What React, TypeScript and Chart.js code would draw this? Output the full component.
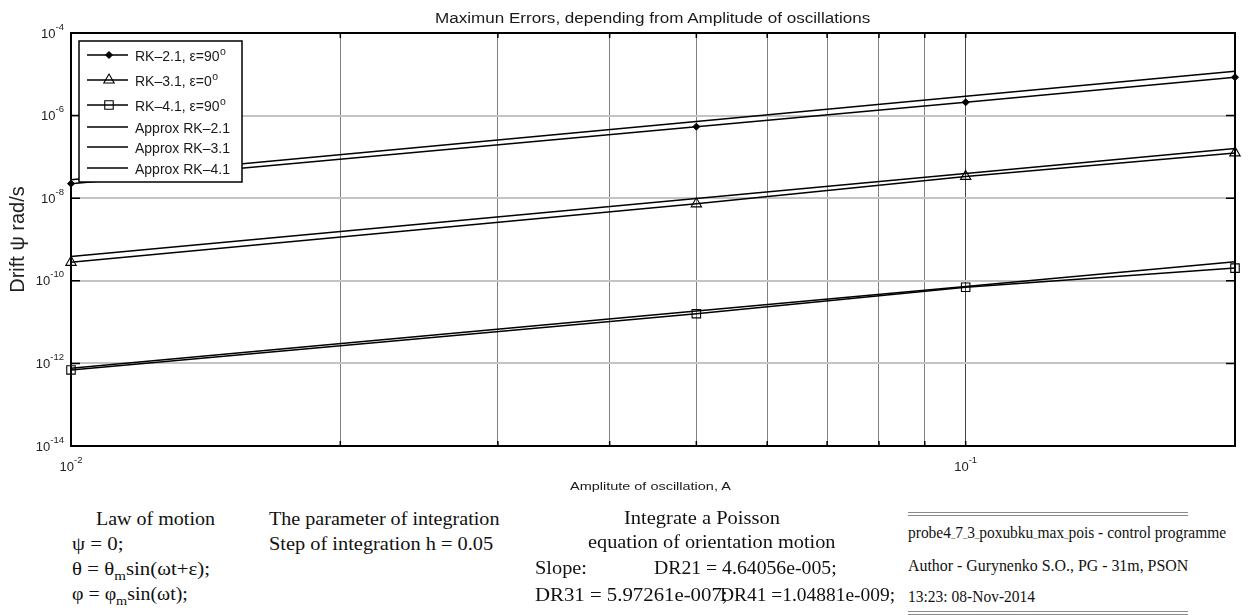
import React, { useEffect, useLayoutEffect, useRef } from 'react';
import { Chart, registerables } from 'chart.js';
import { drawPoint } from 'chart.js/helpers';

Chart.register(...registerables);

// ---------- data ----------
const amplitudes = [0.01, 0.05, 0.1, 0.2];
const rk21 = [2.25e-8, 5.4e-7, 2.1e-6, 8.5e-6];
const rk31 = [2.8e-10, 7.3e-9, 3.37e-8, 1.25e-7];
const rk41 = [6.95e-13, 1.6e-11, 7.0e-11, 2.03e-10];
const approx21 = [2.78e-8, 7.2e-7, 2.94e-6, 1.19e-5];
const approx31 = [3.9e-10, 9.9e-9, 3.95e-8, 1.6e-7];
const approx41 = [7.6e-13, 1.85e-11, 7.3e-11, 2.9e-10];

const seriesLabels = [
  'RK–2.1, ε=90ᵒ',
  'RK–3.1, ε=0ᵒ',
  'RK–4.1, ε=90ᵒ',
  'Approx RK–2.1',
  'Approx RK–3.1',
  'Approx RK–4.1',
];

const xTickValues = [0.01, 0.02, 0.03, 0.04, 0.05, 0.06, 0.07, 0.08, 0.09, 0.1, 0.2];
const xTickLabels = ['10⁻²', '', '', '', '', '', '', '', '', '10⁻¹', ''];
const yTickValues = [1e-4, 1e-6, 1e-8, 1e-10, 1e-12, 1e-14];
const yTickLabels = ['10⁻⁴', '10⁻⁶', '10⁻⁸', '10⁻¹⁰', '10⁻¹²', '10⁻¹⁴'];

const chartTitle = 'Maximun Errors, depending from Amplitude of oscillations';
const xTitle = 'Amplitute of oscillation, A';
const yTitle = 'Drift ψ rad/s';

const SANS = "'Liberation Sans', Arial, Helvetica, sans-serif";
const SERIF = "'Liberation Serif', 'Times New Roman', Times, serif";

const supMap: Record<string, string> = {
  '⁻': '-', '⁰': '0', '¹': '1', '²': '2', '³': '3', '⁴': '4', '⁵': '5', '⁶': '6', '⁷': '7', '⁸': '8', '⁹': '9', 'ᵒ': 'o',
};
const splitLabel = (s: string) => ({
  base: s.slice(0, 2),
  exp: Array.from(s.slice(2)).map((c) => supMap[c] ?? c).join(''),
});

const labelFor = (values: number[], labels: string[], v: number) => {
  for (let i = 0; i < values.length; i++) {
    if (Math.abs(Math.log10(values[i]) - Math.log10(v)) < 1e-6) return labels[i];
  }
  return '';
};

const pts = (ys: number[]) => amplitudes.map((x, i) => ({ x, y: ys[i] }));

// ---------- plugins ----------
const framePlugin = {
  id: 'frame',
  afterDatasetsDraw(chart: any) {
    const { ctx, chartArea: a, scales } = chart;
    ctx.save();
    ctx.strokeStyle = '#000';
    ctx.lineWidth = 2;
    ctx.beginPath();
    ctx.moveTo(a.left, a.top);
    ctx.lineTo(a.right, a.top);
    ctx.lineTo(a.right, a.bottom);
    ctx.stroke();
    ctx.lineWidth = 1.5;
    const tl = 5;
    ctx.beginPath();
    xTickValues.forEach((v) => {
      const px = scales.x.getPixelForValue(v);
      ctx.moveTo(px, a.bottom);
      ctx.lineTo(px, a.bottom - tl);
      ctx.moveTo(px, a.top);
      ctx.lineTo(px, a.top + tl);
    });
    yTickValues.forEach((v) => {
      const py = scales.y.getPixelForValue(v);
      ctx.moveTo(a.left, py);
      ctx.lineTo(a.left + tl + 4, py);
      ctx.moveTo(a.right, py);
      ctx.lineTo(a.right - tl - 4, py);
    });
    ctx.stroke();

    // tick labels with superscript exponents
    ctx.fillStyle = '#222';
    ctx.textBaseline = 'middle';
    const BASE = `13px ${SANS}`;
    const EXP = `9.5px ${SANS}`;
    yTickValues.forEach((v) => {
      const lab = labelFor(yTickValues, yTickLabels, v);
      if (!lab) return;
      const { base, exp } = splitLabel(lab);
      const py = scales.y.getPixelForValue(v);
      const right = a.left - 7;
      ctx.font = EXP;
      const ew = ctx.measureText(exp).width;
      ctx.textAlign = 'right';
      ctx.fillText(exp, right, py - 6);
      ctx.font = BASE;
      ctx.fillText(base, right - ew, py + 1);
    });
    xTickValues.forEach((v) => {
      const lab = labelFor(xTickValues, xTickLabels, v);
      if (!lab) return;
      const { base, exp } = splitLabel(lab);
      const px = scales.x.getPixelForValue(v);
      ctx.font = BASE;
      const bw = ctx.measureText(base).width;
      ctx.font = EXP;
      const ew = ctx.measureText(exp).width;
      const start = px - (bw + ew) / 2;
      ctx.textAlign = 'left';
      ctx.font = BASE;
      ctx.fillText(base, start, a.bottom + 21);
      ctx.font = EXP;
      ctx.fillText(exp, start + bw, a.bottom + 14);
    });
    ctx.restore();
  },
};

const legendPlugin = {
  id: 'boxLegend',
  afterDraw(chart: any) {
    const { ctx } = chart;
    const bx = 79, by = 41, bw = 163, bh = 141;
    const rows = [55, 80, 105, 127, 147, 168];
    ctx.save();
    ctx.fillStyle = '#fff';
    ctx.fillRect(bx, by, bw, bh);
    ctx.strokeStyle = '#000';
    ctx.lineWidth = 1.5;
    ctx.strokeRect(bx, by, bw, bh);
    chart.data.datasets.forEach((ds: any, i: number) => {
      const y = rows[i];
      ctx.strokeStyle = ds.borderColor;
      ctx.lineWidth = ds.borderWidth;
      ctx.beginPath();
      ctx.moveTo(87, y);
      ctx.lineTo(128, y);
      ctx.stroke();
      if (ds.pointRadius > 0) {
        ctx.fillStyle = ds.pointBackgroundColor;
        ctx.strokeStyle = ds.pointBorderColor;
        ctx.lineWidth = ds.pointBorderWidth;
        drawPoint(ctx, { pointStyle: ds.pointStyle, radius: ds.pointRadius, rotation: 0, borderWidth: ds.pointBorderWidth }, 109, y);
      }
      ctx.fillStyle = '#1a1a1a';
      ctx.textBaseline = 'middle';
      ctx.textAlign = 'left';
      const label: string = ds.label;
      const main = label.endsWith('ᵒ') ? label.slice(0, -1) : label;
      ctx.font = `14px ${SANS}`;
      ctx.fillText(main, 135, y + 2);
      if (main !== label) {
        const w = ctx.measureText(main).width;
        ctx.font = `10.5px ${SANS}`;
        ctx.fillText(supMap['ᵒ'], 135 + w + 0.5, y - 3);
      }
    });
    ctx.restore();
  },
};

// ---------- stretched HTML text ----------
function FitText(props: { x: number; y: number; width: number; size: number; family: string; children: any; color?: string }) {
  const { x, y, width, size, family, children, color = '#111' } = props;
  const ref = useRef<HTMLSpanElement>(null);
  useLayoutEffect(() => {
    const el = ref.current;
    if (!el) return;
    const fit = () => {
      const w = el.offsetWidth;
      if (w > 0) el.style.transform = `scaleX(${width / w})`;
    };
    fit();
    if ((document as any).fonts && (document as any).fonts.ready) (document as any).fonts.ready.then(fit);
  }, [width]);
  return (
    <span
      ref={ref}
      style={{
        position: 'absolute',
        left: x,
        top: y - size / 2,
        fontSize: size,
        lineHeight: 1,
        fontFamily: family,
        whiteSpace: 'nowrap',
        transformOrigin: '0 50%',
        color,
      }}
    >
      {children}
    </span>
  );
}

const Sub = ({ children }: { children: any }) => (
  <span style={{ fontSize: '0.72em', position: 'relative', top: '0.38em' }}>{children}</span>
);
const U = () => <span style={{ fontSize: '0.55em' }}>_</span>;

const DoubleLine = ({ x, y, w }: { x: number; y: number; w: number }) => (
  <div
    style={{
      position: 'absolute',
      left: x,
      top: y,
      width: w,
      height: 2,
      borderTop: '1px solid #8a8a8a',
      borderBottom: '1px solid #8a8a8a',
    }}
  />
);

export default function App() {
  const canvasRef = useRef<HTMLCanvasElement>(null);

  useEffect(() => {
    if (!canvasRef.current) return;
    const mk = (label: string, ys: number[], extra: any) => ({
      label,
      data: pts(ys),
      borderColor: '#000',
      borderWidth: 1.5,
      tension: 0,
      clip: false,
      pointRadius: 0,
      pointBackgroundColor: '#000',
      pointBorderColor: '#000',
      pointBorderWidth: 1,
      ...extra,
    });
    const datasets = [
      mk(seriesLabels[0], rk21, { pointStyle: 'rectRot', pointRadius: 3.5 }),
      mk(seriesLabels[1], rk31, { pointStyle: 'triangle', pointRadius: 6, pointBackgroundColor: 'rgba(0,0,0,0)', pointBorderWidth: 1.1 }),
      mk(seriesLabels[2], rk41, { pointStyle: 'rect', pointRadius: 6, pointBackgroundColor: 'rgba(0,0,0,0)', pointBorderWidth: 1.1 }),
      mk(seriesLabels[3], approx21, {}),
      mk(seriesLabels[4], approx31, {}),
      mk(seriesLabels[5], approx41, {}),
    ];

    const chart = new Chart(canvasRef.current, {
      type: 'line',
      data: { datasets } as any,
      options: {
        animation: false,
        responsive: false,
        devicePixelRatio: 1,
        layout: { padding: { left: 0, right: 16, top: 33, bottom: 0 } },
        plugins: {
          legend: { display: false },
          tooltip: { enabled: false },
          title: { display: false },
        },
        scales: {
          x: {
            type: 'logarithmic',
            min: 0.01,
            max: 0.2,
            afterFit: (s: any) => {
              s.height = 54;
            },
            afterBuildTicks: (s: any) => {
              s.ticks = xTickValues.map((v) => ({ value: v }));
            },
            ticks: {
              display: false,
              autoSkip: false,
              maxRotation: 0,
              callback: (v: any) => labelFor(xTickValues, xTickLabels, Number(v)),
            },
            grid: {
              drawTicks: false,
              lineWidth: 1,
              color: (c: any) => (c.tick && Math.abs(c.tick.value - 0.1) < 1e-9 ? '#444' : '#808080'),
            },
            border: { display: true, color: '#000', width: 2 },
          },
          y: {
            type: 'logarithmic',
            min: 1e-14,
            max: 1e-4,
            afterFit: (s: any) => {
              s.width = 71;
            },
            afterBuildTicks: (s: any) => {
              s.ticks = yTickValues.map((v) => ({ value: v }));
            },
            ticks: {
              display: false,
              autoSkip: false,
              callback: (v: any) => labelFor(yTickValues, yTickLabels, Number(v)),
            },
            grid: { drawTicks: false, lineWidth: 2, color: '#c4c4c4' },
            border: { display: true, color: '#000', width: 2 },
            title: {
              display: true,
              text: yTitle,
              color: '#222',
              font: { family: SANS, size: 20 },
              padding: { top: 6, bottom: 0 },
            },
          },
        },
      } as any,
      plugins: [framePlugin, legendPlugin],
    });
    return () => chart.destroy();
  }, []);

  return (
    <div
      style={{
        position: 'absolute',
        left: 0,
        top: 0,
        width: 1251,
        height: 615,
        background: '#fff',
        overflow: 'hidden',
      }}
    >
      <canvas
        ref={canvasRef}
        width={1251}
        height={500}
        style={{ position: 'absolute', left: 0, top: 0, width: 1251, height: 500, display: 'block' }}
      />
      <FitText x={435} y={18} width={435} size={14} family={SANS} color="#1a1a1a">{chartTitle}</FitText>
      <FitText x={570} y={487} width={161} size={11.5} family={SANS} color="#1a1a1a">{xTitle}</FitText>

      {/* law of motion */}
      <FitText x={96} y={519} width={119} size={18} family={SERIF}>Law of motion</FitText>
      <FitText x={72} y={544} width={51} size={18} family={SERIF}>ψ = 0;</FitText>
      <FitText x={72} y={569} width={138} size={18} family={SERIF}>
        θ = θ<Sub>m</Sub>sin(ωt+ε);
      </FitText>
      <FitText x={72} y={594} width={116} size={18} family={SERIF}>
        φ = φ<Sub>m</Sub>sin(ωt);
      </FitText>

      {/* integration parameter */}
      <FitText x={269} y={519} width={230} size={18} family={SERIF}>The parameter of integration</FitText>
      <FitText x={269} y={544} width={224} size={18} family={SERIF}>Step of integration h = 0.05</FitText>

      {/* Poisson block */}
      <FitText x={624} y={518} width={156} size={18} family={SERIF}>Integrate a Poisson</FitText>
      <FitText x={588} y={542} width={247} size={18} family={SERIF}>equation of orientation motion</FitText>
      <FitText x={535} y={568} width={52} size={18} family={SERIF}>Slope:</FitText>
      <FitText x={654} y={568} width={183} size={18} family={SERIF}>DR21 = 4.64056e-005;</FitText>
      <FitText x={535} y={595} width={193} size={18} family={SERIF}>DR31 = 5.97261e-007;</FitText>
      <FitText x={720} y={595} width={175} size={18} family={SERIF}>DR41 =1.04881e-009;</FitText>

      {/* program info */}
      <DoubleLine x={908} y={512} w={280} />
      <FitText x={908} y={533} width={318} size={16} family={SERIF}>
        probe4<U />7<U />3<U />poxubku<U />max<U />pois - control programme
      </FitText>
      <FitText x={908} y={566} width={280} size={16} family={SERIF}>Author - Gurynenko S.O., PG - 31m, PSON</FitText>
      <FitText x={908} y={597} width={127} size={16} family={SERIF}>13:23: 08-Nov-2014</FitText>
      <DoubleLine x={908} y={611} w={280} />
    </div>
  );
}
